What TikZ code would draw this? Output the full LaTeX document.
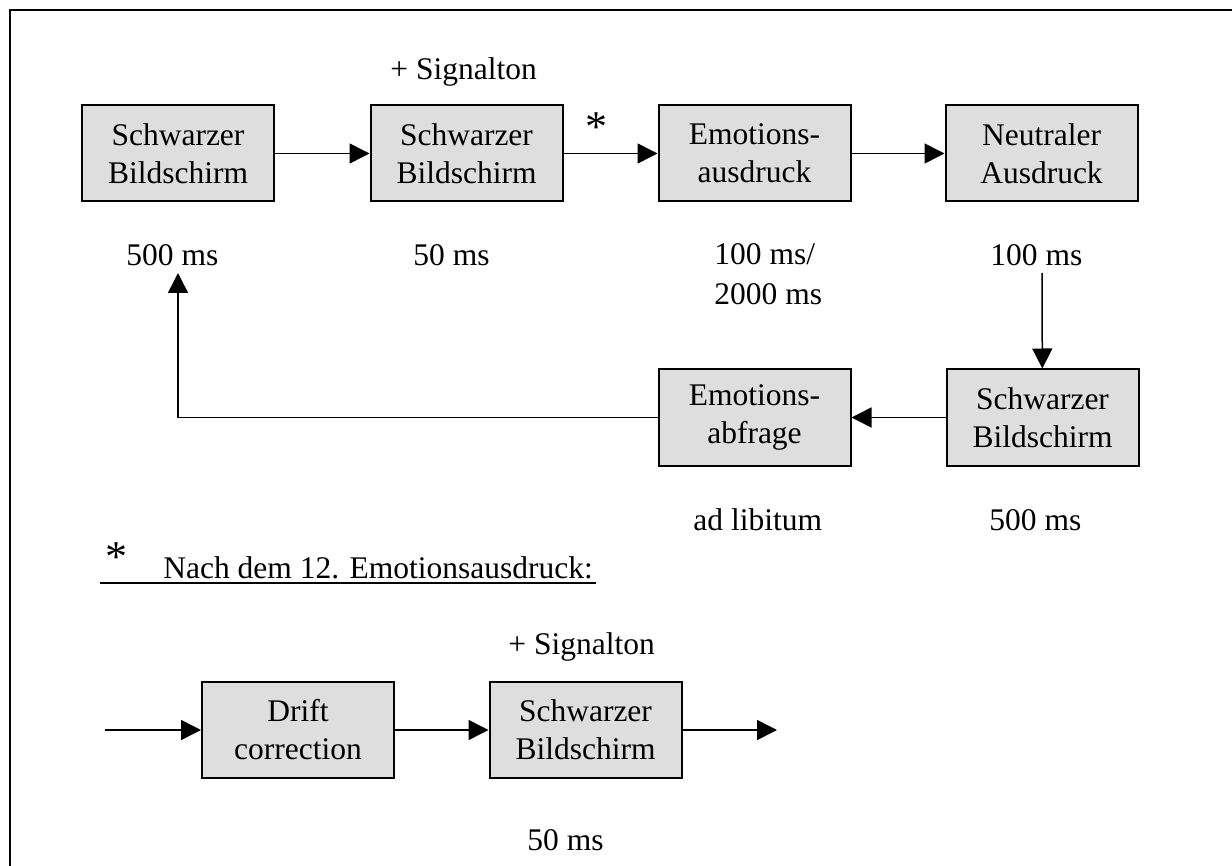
\documentclass[tikz,border=0pt]{standalone}
\usepackage{fontspec}
\setmainfont{Liberation Serif}
\usetikzlibrary{arrows.meta}

\begin{document}
\begin{tikzpicture}[
  x=0.5pt, y=-0.5pt,
  font=\fontsize{15.75}{19}\selectfont,
  screen/.style={draw, rectangle, line width=1pt, fill=black!13,
    minimum width=96pt, minimum height=48pt, inner sep=0pt, align=center},
  dur/.style={anchor=base west, inner sep=0pt},
  star/.style={font=\fontsize{22}{22}\selectfont, inner sep=0pt},
  arr/.style={-{Triangle[length=10pt, width=10pt]}, line width=0.75pt},
]
  \useasboundingbox (0,0) rectangle (1232,866);
  \draw[line width=1.2pt] (10,866) -- (10,10) -- (1232,10);

  % Row 1: trial start
  \node[screen] (schwarzA) at (178,153.5) {Schwarzer\\Bildschirm};
  \node[screen] (schwarzB) at (466.5,153.5) {Schwarzer\\Bildschirm};
  \node[screen] (ausdruck) at (754.5,153.5) {Emotions-\\ausdruck};
  \node[screen] (neutral) at (1041.5,153.5) {Neutraler\\Ausdruck};

  % Row 2: rating (right to left)
  \node[screen] (schwarzC) at (1042.5,417.5) {Schwarzer\\Bildschirm};
  \node[screen] (abfrage) at (754.5,417.5) {Emotions-\\abfrage};

  % Durations and sound
  \node[dur] (tonA) at (390,80) {+ Signalton};
  \node[star] (sternA) at (596,127) {*};
  \node[dur] (zeitA) at (126,266) {500 ms};
  \node[dur] (zeitB) at (413,266) {50 ms};
  \node[anchor=west, inner sep=0pt, align=left,
    font=\fontsize{15.75}{20}\selectfont] (zeitC) at (714,274.5) {100 ms/\\2000 ms};
  \node[dur] (zeitD) at (990,266) {100 ms};
  \node[dur] (zeitE) at (693,530) {ad libitum};
  \node[dur] (zeitF) at (989,530) {500 ms};

  \coordinate (runter) at (1042,273);
  \coordinate (zurueck) at (178,273);

  % Arrows: loop
  \draw[arr] (schwarzA) -- (schwarzB);
  \draw[arr] (schwarzB) -- (ausdruck);
  \draw[arr] (ausdruck) -- (neutral);
  \draw[arr] (runter) -- (schwarzC);
  \draw[arr] (schwarzC) -- (abfrage);
  \draw[arr] (abfrage) -| (zurueck);

  % Footnote: after the 12th expression
  \node[star] (sternB) at (116,557) {*};
  \node[dur] (notiz) at (163,578) {Nach dem 12. Emotionsausdruck:};
  \draw[line width=1pt] (100,582.5) -- (596,582.5);

  \node[screen] (drift) at (298,730) {Drift\\correction};
  \node[screen] (schwarzD) at (585.5,730) {Schwarzer\\Bildschirm};
  \node[dur] (tonB) at (508,654) {+ Signalton};
  \node[dur] (zeitG) at (527,850) {50 ms};

  \coordinate (rein) at (105,730);
  \coordinate (raus) at (777,730);
  \draw[arr] (rein) -- (drift);
  \draw[arr] (drift) -- (schwarzD);
  \draw[arr] (schwarzD) -- (raus);
\end{tikzpicture}
\end{document}
